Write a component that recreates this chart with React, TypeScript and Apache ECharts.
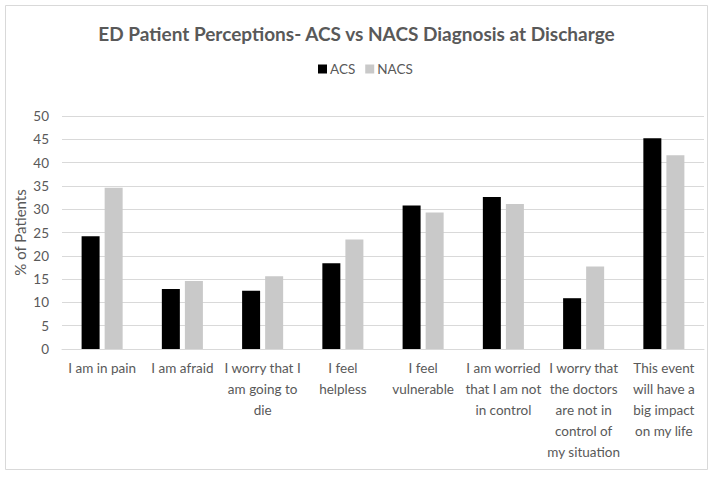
import React, { useEffect, useRef } from "react";
import * as echarts from "echarts";

const categories = [
  "I am in pain",
  "I am afraid",
  "I worry that I\nam going to\ndie",
  "I feel\nhelpless",
  "I feel\nvulnerable",
  "I am worried\nthat I am not\nin control",
  "I worry that\nthe doctors\nare not in\ncontrol of\nmy situation",
  "This event\nwill have a\nbig impact\non my life",
];
const acsValues = [24.2, 12.9, 12.5, 18.4, 30.8, 32.6, 10.9, 45.2];
const nacsValues = [34.6, 14.6, 15.6, 23.5, 29.3, 31.1, 17.7, 41.6];
const yTicks = { min: 0, max: 50, interval: 5 };

const FONT = "Lato, 'Open Sans', sans-serif";
const TEXT = "#595959";

export default function App() {
  const ref = useRef<HTMLDivElement>(null);
  useEffect(() => {
    if (!ref.current) return;
    const chart = echarts.init(ref.current, null, { renderer: "svg" });
    chart.setOption({
      animation: false,
      backgroundColor: "#ffffff",
      textStyle: { fontFamily: FONT },
      graphic: [
        {
          type: "rect",
          shape: { x: 5.5, y: 5.5, width: 702, height: 464 },
          style: { fill: "none", stroke: "#d9d9d9", lineWidth: 1 },
          silent: true,
        },
      ],
      title: {
        text: "ED Patient Perceptions- ACS vs NACS Diagnosis at Discharge",
        left: "center",
        top: 19,
        textStyle: { fontFamily: FONT, fontSize: 19, fontWeight: "bold", color: TEXT },
      },
      legend: {
        top: 57,
        left: 313,
        itemWidth: 9,
        itemHeight: 9,
        itemGap: 10,
        icon: "rect",
        textStyle: { fontFamily: FONT, fontSize: 13.5, color: TEXT, padding: [0, 0, 0, -2] },
        data: ["ACS", "NACS"],
      },
      grid: { left: 62, right: 9, top: 116, bottom: 131, containLabel: false },
      xAxis: {
        type: "category",
        data: categories,
        axisLine: { lineStyle: { color: "#d9d9d9" } },
        axisTick: { show: false },
        axisLabel: {
          interval: 0,
          color: TEXT,
          fontFamily: FONT,
          fontSize: 13.5,
          lineHeight: 21,
          margin: 8,
          verticalAlign: "top",
        },
      },
      yAxis: {
        type: "value",
        min: yTicks.min,
        max: yTicks.max,
        interval: yTicks.interval,
        name: "% of Patients",
        nameLocation: "middle",
        nameGap: 35,
        nameMoveOverlap: false,
        nameTextStyle: { color: TEXT, fontFamily: FONT, fontSize: 15 },
        axisLine: { show: false },
        axisTick: { show: false },
        axisLabel: { color: TEXT, fontFamily: FONT, fontSize: 13.5, margin: 13 },
        splitLine: { lineStyle: { color: "#d9d9d9" } },
      },
      series: [
        {
          name: "ACS",
          type: "bar",
          data: acsValues,
          barWidth: 18,
          barGap: "28%",
          itemStyle: { color: "#000000" },
        },
        {
          name: "NACS",
          type: "bar",
          data: nacsValues,
          barWidth: 18,
          barGap: "28%",
          itemStyle: { color: "#c9c9c9" },
        },
      ],
    });
    return () => chart.dispose();
  }, []);
  return (
    <div
      ref={ref}
      style={{ position: "absolute", left: 0, top: 0, width: 713, height: 480 }}
    />
  );
}
